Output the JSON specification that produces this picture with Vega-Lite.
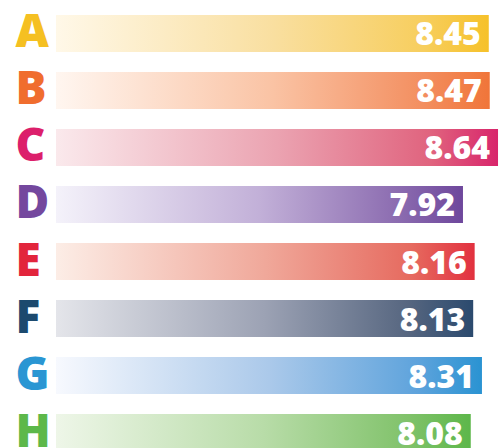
{
  "$schema": "https://vega.github.io/schema/vega-lite/v6.json",
  "width": 443,
  "height": 466,
  "autosize": "none",
  "padding": {"left": 56, "top": 0, "right": 0, "bottom": 0},
  "background": "white",
  "config": {"view": {"stroke": null}},
  "data": {
    "values": [
      {"letter": "A", "value": 8.45},
      {"letter": "B", "value": 8.47},
      {"letter": "C", "value": 8.64},
      {"letter": "D", "value": 7.92},
      {"letter": "E", "value": 8.16},
      {"letter": "F", "value": 8.13},
      {"letter": "G", "value": 8.31},
      {"letter": "H", "value": 8.08}
    ]
  },
  "encoding": {
    "y": {
      "field": "letter",
      "type": "nominal",
      "sort": null,
      "scale": {"paddingInner": 0.351, "paddingOuter": 0.263},
      "axis": {
        "title": null,
        "domain": false,
        "ticks": false,
        "labelAlign": "left",
        "labelPadding": 41,
        "labelFont": "Open Sans",
        "labelFontWeight": 800,
        "labelFontSize": 46,
        "labelBaseline": "middle",
        "labelColor": {
          "condition": [
            {"test": "datum.value==='A'", "value": "#F5C022"},
            {"test": "datum.value==='B'", "value": "#F06D2E"},
            {"test": "datum.value==='C'", "value": "#DC1F6B"},
            {"test": "datum.value==='D'", "value": "#74489E"},
            {"test": "datum.value==='E'", "value": "#E2253C"},
            {"test": "datum.value==='F'", "value": "#1C4A6E"},
            {"test": "datum.value==='G'", "value": "#2A96D3"}
          ],
          "value": "#5DB84A"
        }
      }
    },
    "x": {
      "field": "value",
      "type": "quantitative",
      "scale": {"domain": [-0.44, 8.66], "zero": false, "nice": false},
      "axis": null
    }
  },
  "layer": [
    {
      "mark": {"type": "bar", "cornerRadius": 0},
      "encoding": {
        "x2": {"datum": -0.44},
        "color": {
          "condition": [
            {"test": "datum.letter=='A'", "value": {"gradient": "linear", "x1": 0, "y1": 0, "x2": 1, "y2": 0, "stops": [{"offset": 0, "color": "#FFF8E8"}, {"offset": 0.5, "color": "#F9DFA0"}, {"offset": 0.85, "color": "#F7CE5E"}, {"offset": 1, "color": "#F6C12A"}]}},
            {"test": "datum.letter=='B'", "value": {"gradient": "linear", "x1": 0, "y1": 0, "x2": 1, "y2": 0, "stops": [{"offset": 0, "color": "#FFF6F0"}, {"offset": 0.5, "color": "#FAC3A4"}, {"offset": 0.85, "color": "#F38E5F"}, {"offset": 1, "color": "#F07539"}]}},
            {"test": "datum.letter=='C'", "value": {"gradient": "linear", "x1": 0, "y1": 0, "x2": 1, "y2": 0, "stops": [{"offset": 0, "color": "#FAE9EC"}, {"offset": 0.5, "color": "#EBA3B1"}, {"offset": 0.85, "color": "#E0637E"}, {"offset": 1, "color": "#D8256B"}]}},
            {"test": "datum.letter=='D'", "value": {"gradient": "linear", "x1": 0, "y1": 0, "x2": 1, "y2": 0, "stops": [{"offset": 0, "color": "#F4F2FA"}, {"offset": 0.5, "color": "#C2B0D8"}, {"offset": 0.85, "color": "#8A6AAF"}, {"offset": 1, "color": "#6E479C"}]}},
            {"test": "datum.letter=='E'", "value": {"gradient": "linear", "x1": 0, "y1": 0, "x2": 1, "y2": 0, "stops": [{"offset": 0, "color": "#FCEDE6"}, {"offset": 0.5, "color": "#F0A89A"}, {"offset": 0.85, "color": "#E66A5F"}, {"offset": 1, "color": "#E2313F"}]}},
            {"test": "datum.letter=='F'", "value": {"gradient": "linear", "x1": 0, "y1": 0, "x2": 1, "y2": 0, "stops": [{"offset": 0, "color": "#E4E5EA"}, {"offset": 0.5, "color": "#9CA2B4"}, {"offset": 0.85, "color": "#55657F"}, {"offset": 1, "color": "#2B4A6E"}]}},
            {"test": "datum.letter=='G'", "value": {"gradient": "linear", "x1": 0, "y1": 0, "x2": 1, "y2": 0, "stops": [{"offset": 0, "color": "#F7F9FE"}, {"offset": 0.5, "color": "#ABC9EA"}, {"offset": 0.85, "color": "#5EA3DC"}, {"offset": 1, "color": "#2A93D2"}]}}
          ],
          "value": {"gradient": "linear", "x1": 0, "y1": 0, "x2": 1, "y2": 0, "stops": [{"offset": 0, "color": "#EEF6E8"}, {"offset": 0.5, "color": "#B8DCA8"}, {"offset": 0.85, "color": "#80C26A"}, {"offset": 1, "color": "#5DB74A"}]}
        }
      }
    },
    {
      "mark": {
        "type": "text",
        "align": "right",
        "baseline": "middle",
        "dx": -8,
        "dy": 2,
        "font": "Open Sans",
        "fontWeight": 800,
        "fontSize": 32,
        "color": "white"
      },
      "encoding": {
        "text": {"field": "value", "type": "quantitative", "format": ".2f"}
      }
    }
  ]
}
